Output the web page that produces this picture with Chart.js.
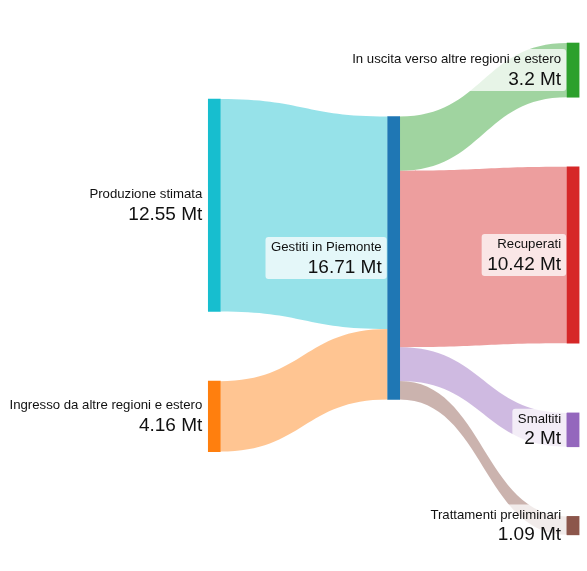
<!DOCTYPE html>
<html>
<head>
<meta charset="utf-8">
<script src="https://cdn.jsdelivr.net/npm/chart.js@4.4.1/dist/chart.umd.min.js"></script>
<style>
  html, body { margin: 0; padding: 0; background: #fff; }
  #wrap { width: 587px; height: 571px; }
</style>
</head>
<body>
<div id="wrap"><canvas id="sankey"></canvas></div>
<script>
// ---- dati (Mt) ----
var nodeLabels = ['Produzione stimata', 'Ingresso da altre regioni e estero', 'Gestiti in Piemonte',
                  'In uscita verso altre regioni e estero', 'Recuperati', 'Smaltiti', 'Trattamenti preliminari'];
var nodeColumns = [0, 0, 1, 2, 2, 2, 2];
var linkSources = [0, 1, 2, 2, 2, 2];
var linkTargets = [2, 2, 3, 4, 5, 6];
var linkValues = [12.55, 4.16, 3.2, 10.42, 2, 1.09];

// ---- stile / layout ----
var nodeColors = ['#17becf', '#ff7f0e', '#1f77b4', '#2ca02c', '#d62728', '#9467bd', '#8c564b'];
var linkColorNode = [0, 1, 3, 4, 5, 6]; // il flusso prende il colore di questo nodo
var columnTop = [5.845, 6.88, 2.54];    // inizio colonna, in Mt dall'alto
var nodeGap = 4.11;                     // spazio tra nodi, in Mt
var FONT = "'Liberation Sans', Arial, sans-serif";

function hexAlpha(hex, a) {
    var n = parseInt(hex.slice(1), 16);
    return 'rgba(' + (n >> 16) + ',' + ((n >> 8) & 255) + ',' + (n & 255) + ',' + a + ')';
}

// valore di ogni nodo = max(entrate, uscite)
var nodeIn = nodeLabels.map(function() { return 0; });
var nodeOut = nodeLabels.map(function() { return 0; });
linkValues.forEach(function(v, i) {
    nodeOut[linkSources[i]] += v;
    nodeIn[linkTargets[i]] += v;
});
var nodeValues = nodeLabels.map(function(_, i) { return Math.max(nodeIn[i], nodeOut[i]); });

// impila i nodi in ogni colonna
var nodeTop = [], colCursor = columnTop.slice();
nodeLabels.forEach(function(_, i) {
    var c = nodeColumns[i];
    nodeTop[i] = colCursor[c];
    colCursor[c] += nodeValues[i] + nodeGap;
});

// posizione dei flussi sui nodi (in ordine di nodo)
var outCursor = nodeTop.slice(), inCursor = nodeTop.slice();
var links = linkValues.map(function(v, i) {
    var s = linkSources[i], t = linkTargets[i];
    var l = { s: s, t: t, sy: outCursor[s], ty: inCursor[t], v: v };
    outCursor[s] += v;
    inCursor[t] += v;
    return l;
});

var nodeData = nodeLabels.map(function(_, i) {
    return { x: nodeColumns[i], y: [nodeTop[i], nodeTop[i] + nodeValues[i]] };
});

//-------------
//- flussi (sotto i nodi) -
//-------------
var linksPlugin = {
    id: 'sankeyLinks',
    beforeDatasetsDraw: function(chart) {
        var ctx = chart.ctx, xs = chart.scales.x, ys = chart.scales.y;
        var bars = chart.getDatasetMeta(0).data;
        ctx.save();
        links.forEach(function(l, i) {
            var x0 = xs.getPixelForValue(nodeColumns[l.s]) + bars[l.s].width / 2;
            var x1 = xs.getPixelForValue(nodeColumns[l.t]) - bars[l.t].width / 2;
            var xm = (x0 + x1) / 2;
            var s0 = ys.getPixelForValue(l.sy), s1 = ys.getPixelForValue(l.sy + l.v);
            var t0 = ys.getPixelForValue(l.ty), t1 = ys.getPixelForValue(l.ty + l.v);
            ctx.beginPath();
            ctx.moveTo(x0, s0);
            ctx.bezierCurveTo(xm, s0, xm, t0, x1, t0);
            ctx.lineTo(x1, t1);
            ctx.bezierCurveTo(xm, t1, xm, s1, x0, s1);
            ctx.closePath();
            ctx.fillStyle = hexAlpha(nodeColors[linkColorNode[i]], 0.45);
            ctx.fill();
        });
        ctx.restore();
    }
};

//-------------
//- etichette -
//-------------
var labelsPlugin = {
    id: 'sankeyLabels',
    afterDatasetsDraw: function(chart) {
        var ctx = chart.ctx;
        var bars = chart.getDatasetMeta(0).data;
        ctx.save();
        nodeLabels.forEach(function(name, i) {
            var b = bars[i];
            var right = b.x - b.width / 2 - 6;
            var c = (b.y + b.base) / 2;
            var val = (Math.round(nodeValues[i] * 100) / 100) + ' Mt';
            ctx.font = '13.2px ' + FONT;
            var w1 = ctx.measureText(name).width;
            ctx.font = '19px ' + FONT;
            var w2 = ctx.measureText(val).width;
            var w = Math.max(w1, w2);
            ctx.fillStyle = 'rgba(255,255,255,0.75)';
            ctx.beginPath();
            if (ctx.roundRect) ctx.roundRect(right - w - 5.5, c - 21, w + 10.5, 42, 3);
            else ctx.rect(right - w - 5.5, c - 21, w + 10.5, 42);
            ctx.fill();
            ctx.fillStyle = '#111';
            ctx.textAlign = 'right';
            ctx.textBaseline = 'alphabetic';
            ctx.font = '13.2px ' + FONT;
            ctx.fillText(name, right, c - 7);
            ctx.font = '19px ' + FONT;
            ctx.fillText(val, right, c + 14.5);
        });
        ctx.restore();
    }
};

var sankeyCanvas = document.getElementById('sankey').getContext('2d');
var sankeyChart = new Chart(sankeyCanvas, {
    type: 'bar',
    data: {
        datasets: [{
            data: nodeData,
            backgroundColor: nodeColors,
            barThickness: 12,
            borderWidth: 0
        }]
    },
    options: {
        responsive: true,
        maintainAspectRatio: false,
        animation: false,
        layout: { padding: 0 },
        plugins: { legend: { display: false }, tooltip: { enabled: false } },
        scales: {
            x: { type: 'linear', display: false, offset: false, grid: { offset: false },
                 min: -1.1945, max: 2.0775 },
            y: { display: false, reverse: true, min: 0, max: 33.715 }
        }
    },
    plugins: [linksPlugin, labelsPlugin]
});
</script>
</body>
</html>
